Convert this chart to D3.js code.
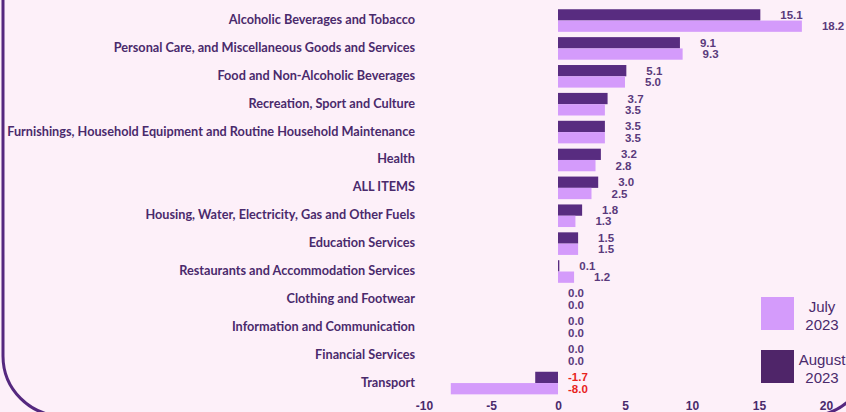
<!DOCTYPE html>
<html>
<head>
<meta charset="utf-8">
<script src="https://cdn.jsdelivr.net/npm/d3@7"></script>
<style>
  html, body { margin: 0; padding: 0; background: #fdf0f9; overflow: hidden; }
</style>
</head>
<body>
<div id="chart"></div>
<script>
const categories = [
  "Alcoholic Beverages and Tobacco",
  "Personal Care, and Miscellaneous Goods and Services",
  "Food and Non-Alcoholic Beverages",
  "Recreation, Sport and Culture",
  "Furnishings, Household Equipment and Routine Household Maintenance",
  "Health",
  "ALL ITEMS",
  "Housing, Water, Electricity, Gas and Other Fuels",
  "Education Services",
  "Restaurants and Accommodation Services",
  "Clothing and Footwear",
  "Information and Communication",
  "Financial Services",
  "Transport"
];
const august2023 = [15.1, 9.1, 5.1, 3.7, 3.5, 3.2, 3.0, 1.8, 1.5, 0.1, 0.0, 0.0, 0.0, -1.7];
const july2023 = [18.2, 9.3, 5.0, 3.5, 3.5, 2.8, 2.5, 1.3, 1.5, 1.2, 0.0, 0.0, 0.0, -8.0];
const xTicks = [-10, -5, 0, 5, 10, 15, 20];
const seriesNames = ["August 2023", "July 2023"];

const W = 846, H = 412;
const textColor = "#4a2a6c";
const colors = { "August 2023": "#582c80", "July 2023": "#d49bfb" };

const svg = d3.select("#chart").append("svg")
  .attr("width", W)
  .attr("height", H);

svg.append("rect")
  .attr("width", W).attr("height", H)
  .attr("fill", "#fdf0f9");

// frame with rounded bottom corners
svg.append("rect")
  .attr("x", 3).attr("y", -80)
  .attr("width", 866).attr("height", 496)
  .attr("rx", 60).attr("ry", 60)
  .attr("fill", "none")
  .attr("stroke", "#55287f")
  .attr("stroke-width", 3);

const x = d3.scaleLinear().domain([-10, 20]).range([424, 826]);

const y = d3.scaleBand()
  .domain(categories)
  .range([6.6, 397])
  .paddingInner(0.19)
  .paddingOuter(0.095);

const sub = d3.scaleBand()
  .domain(seriesNames)
  .range([0, y.bandwidth()]);

const rows = categories.map((c, i) => ({
  cat: c,
  values: [
    { key: "August 2023", v: august2023[i] },
    { key: "July 2023", v: july2023[i] }
  ]
}));

// category labels
svg.append("g").selectAll("text")
  .data(categories)
  .enter().append("text")
  .attr("x", 415)
  .attr("y", d => y(d) + y.bandwidth() / 2 - 1)
  .attr("dy", "0.35em")
  .attr("text-anchor", "end")
  .style("font-family", "Lato")
  .style("font-weight", "bold")
  .style("font-size", "12.7px")
  .style("fill", textColor)
  .text(d => d);

const groups = svg.append("g").selectAll("g")
  .data(rows)
  .enter().append("g")
  .attr("transform", d => `translate(0,${y(d.cat)})`);

groups.selectAll("rect")
  .data(d => d.values)
  .enter().append("rect")
  .attr("x", d => x(Math.min(0, d.v)))
  .attr("y", d => sub(d.key))
  .attr("width", d => Math.abs(x(d.v) - x(0)))
  .attr("height", sub.bandwidth())
  .attr("fill", d => colors[d.key]);

// value labels; zero pairs sit a little apart so they do not collide
groups.selectAll("text")
  .data(d => d.values)
  .enter().append("text")
  .attr("x", d => x(Math.max(0, d.v)) + (d.v > 0 ? 20 : 10))
  .attr("y", d => {
    const mid = y.bandwidth() / 2;
    if (d.v === 0) return d.key === "August 2023" ? mid - 6 : mid + 6;
    return sub(d.key) + sub.bandwidth() / 2;
  })
  .attr("dy", "0.35em")
  .style("font-family", "Liberation Sans, Arial, sans-serif")
  .style("font-weight", "bold")
  .style("font-size", "11.5px")
  .style("fill", d => d.v < 0 ? "#e8231d" : "#5a3a7c")
  .text(d => d.v.toFixed(1));

// x axis
svg.append("g")
  .attr("transform", "translate(0,399)")
  .call(d3.axisBottom(x).tickValues(xTicks).tickSize(0).tickPadding(2).tickFormat(d => String(d)))
  .call(g => g.select(".domain").remove())
  .call(g => g.selectAll(".tick text")
    .style("font-family", "Liberation Sans, Arial, sans-serif")
    .style("font-weight", "bold")
    .style("font-size", "12px")
    .style("fill", textColor));

// legend
const legendItems = [
  { key: "July 2023", lines: ["July", "2023"], y: 297 },
  { key: "August 2023", lines: ["August", "2023"], y: 350 }
];
const legend = svg.append("g").selectAll("g")
  .data(legendItems)
  .enter().append("g")
  .attr("transform", d => `translate(761,${d.y})`);

legend.append("rect")
  .attr("width", 33).attr("height", 33)
  .attr("fill", d => d.key === "August 2023" ? "#4f2569" : colors[d.key]);

legend.append("text")
  .attr("x", 61)
  .attr("y", 15)
  .attr("text-anchor", "middle")
  .style("font-family", "Liberation Sans, Arial, sans-serif")
  .style("font-size", "15px")
  .style("fill", textColor)
  .selectAll("tspan")
  .data(d => d.lines)
  .enter().append("tspan")
  .attr("x", 61)
  .attr("dy", (d, i) => i === 0 ? 0 : "1.2em")
  .text(d => d);
</script>
</body>
</html>
